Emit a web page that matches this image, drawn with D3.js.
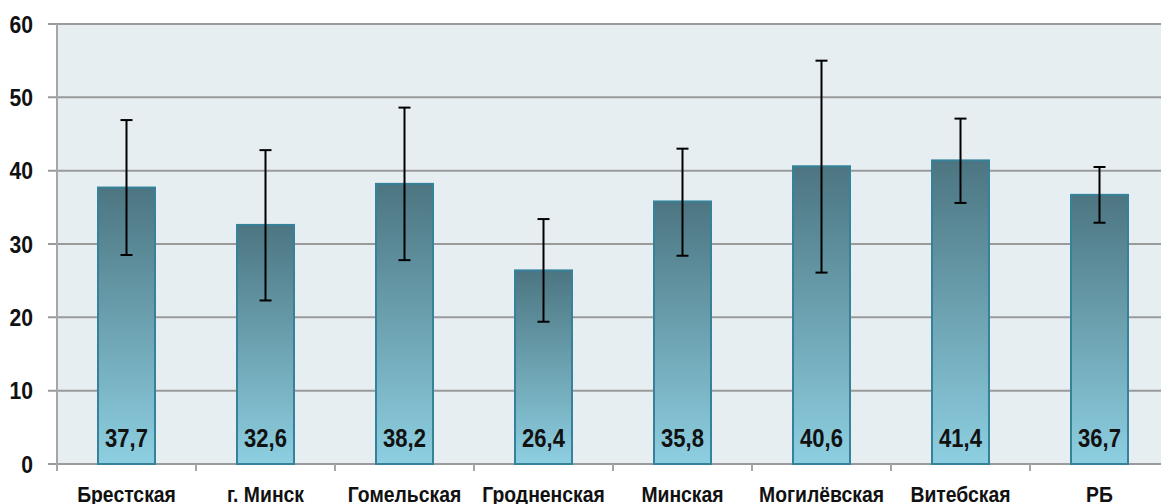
<!DOCTYPE html>
<html>
<head>
<meta charset="utf-8">
<script src="https://cdn.jsdelivr.net/npm/d3@7"></script>
<style>
  body { margin: 0; background: #fff; }
  text { font-family: "Liberation Sans Narrow", "Arial Narrow", "Liberation Sans", Arial, sans-serif; font-weight: bold; }
</style>
</head>
<body>
<script>
// regions and values
var regions = ["Брестская", "г. Минск", "Гомельская", "Гродненская", "Минская", "Могилёвская", "Витебская", "РБ"];
var values = [37.7, 32.6, 38.2, 26.4, 35.8, 40.6, 41.4, 36.7];
var lowErr = [28.5, 22.3, 27.8, 19.4, 28.4, 26.1, 35.6, 32.9];
var highErr = [46.9, 42.8, 48.6, 33.4, 43.0, 55.0, 47.1, 40.5];
var yTicks = [0, 10, 20, 30, 40, 50, 60];

var width = 1161, height = 504;
var plotLeft = 57, plotTop = 24, plotBottom = 464, plotRight = 1169;
var squeeze = 0.88; // narrow the text horizontally

var svg = d3.select("body").append("svg")
	.attr("width", width)
	.attr("height", height);

var x = d3.scaleBand()
	.domain(regions)
	.range([plotLeft, plotRight])
	.paddingInner(0.59)
	.paddingOuter(0.295);

var y = d3.scaleLinear()
	.domain([0, 60])
	.range([plotBottom, plotTop]);

// gradient for bars
var grad = svg.append("defs").append("linearGradient")
	.attr("id", "barGrad")
	.attr("x1", 0).attr("y1", 0).attr("x2", 0).attr("y2", 1);
grad.append("stop").attr("offset", "0%").attr("stop-color", "#4c7581");
grad.append("stop").attr("offset", "100%").attr("stop-color", "#8dcfe1");

// plot background
svg.append("rect")
	.attr("x", plotLeft)
	.attr("y", plotTop)
	.attr("width", plotRight - plotLeft)
	.attr("height", plotBottom - plotTop)
	.attr("fill", "#e7eef2");

// grid lines + y ticks
svg.selectAll(".grid").data(yTicks).enter().append("line")
	.attr("x1", plotLeft - 9)
	.attr("x2", plotRight)
	.attr("y1", function(d) { return y(d); })
	.attr("y2", function(d) { return y(d); })
	.attr("stroke", "#9a9a9a")
	.attr("stroke-width", 2);

svg.selectAll(".ylab").data(yTicks).enter().append("text")
	.attr("transform", function(d) { return "translate(33," + y(d) + ") scale(" + squeeze + ",1)"; })
	.attr("dy", "0.36em")
	.attr("text-anchor", "end")
	.attr("font-size", 24)
	.attr("fill", "#111")
	.text(function(d) { return d; });

// left axis line
svg.append("line")
	.attr("x1", plotLeft).attr("x2", plotLeft)
	.attr("y1", plotTop).attr("y2", plotBottom + 7)
	.attr("stroke", "#a6a6a6")
	.attr("stroke-width", 2);

// category ticks
var step = x.step();
svg.selectAll(".xtick").data(regions).enter().append("line")
	.attr("x1", function(d, i) { return plotLeft + step * (i + 1); })
	.attr("x2", function(d, i) { return plotLeft + step * (i + 1); })
	.attr("y1", plotBottom)
	.attr("y2", plotBottom + 7)
	.attr("stroke", "#a6a6a6")
	.attr("stroke-width", 2);

// bars
svg.selectAll(".bar").data(values).enter().append("rect")
	.attr("x", function(d, i) { return x(regions[i]); })
	.attr("y", function(d) { return y(d); })
	.attr("width", x.bandwidth())
	.attr("height", function(d) { return plotBottom - y(d); })
	.attr("fill", "url(#barGrad)")
	.attr("stroke", "#35829a")
	.attr("stroke-width", 2);

// error bars
var cx = function(i) { return x(regions[i]) + x.bandwidth() / 2; };
var err = svg.selectAll(".err").data(values).enter().append("g");
err.append("line")
	.attr("x1", function(d, i) { return cx(i); })
	.attr("x2", function(d, i) { return cx(i); })
	.attr("y1", function(d, i) { return y(highErr[i]); })
	.attr("y2", function(d, i) { return y(lowErr[i]); })
	.attr("stroke", "#000")
	.attr("stroke-width", 2);
err.append("line")
	.attr("x1", function(d, i) { return cx(i) - 6; })
	.attr("x2", function(d, i) { return cx(i) + 6; })
	.attr("y1", function(d, i) { return y(highErr[i]); })
	.attr("y2", function(d, i) { return y(highErr[i]); })
	.attr("stroke", "#000")
	.attr("stroke-width", 2);
err.append("line")
	.attr("x1", function(d, i) { return cx(i) - 6; })
	.attr("x2", function(d, i) { return cx(i) + 6; })
	.attr("y1", function(d, i) { return y(lowErr[i]); })
	.attr("y2", function(d, i) { return y(lowErr[i]); })
	.attr("stroke", "#000")
	.attr("stroke-width", 2);

// value labels
svg.selectAll(".val").data(values).enter().append("text")
	.attr("transform", function(d, i) { return "translate(" + cx(i) + ",438) scale(" + squeeze + ",1)"; })
	.attr("dy", "0.36em")
	.attr("text-anchor", "middle")
	.attr("font-size", 25)
	.attr("fill", "#111")
	.text(function(d) { return d.toFixed(1).replace(".", ","); });

// category labels
svg.selectAll(".cat").data(regions).enter().append("text")
	.attr("transform", function(d, i) { return "translate(" + cx(i) + ",494) scale(" + squeeze + ",1)"; })
	.attr("dy", "0.36em")
	.attr("text-anchor", "middle")
	.attr("font-size", 22)
	.attr("fill", "#111")
	.text(function(d) { return d; });
</script>
</body>
</html>
